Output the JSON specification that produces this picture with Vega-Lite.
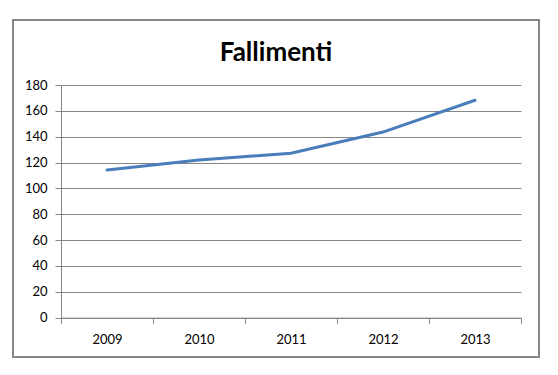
{
  "$schema": "https://vega.github.io/schema/vega-lite/v6.json",
  "autosize": {"type": "none"},
  "width": 526,
  "height": 337,
  "padding": {"left": 13, "top": 20, "right": 19, "bottom": 18},
  "background": "white",
  "config": {
    "view": {"stroke": "#868686", "strokeWidth": 2},
    "font": "Lato"
  },
  "title": {
    "text": "Fallimenti",
    "font": "Lato",
    "fontSize": 26,
    "fontWeight": "bold",
    "color": "#000000",
    "anchor": "middle",
    "frame": "group",
    "baseline": "alphabetic",
    "offset": -39,
    "dy": 28
  },
  "data": {
    "values": [
      {"anno": "2009", "fallimenti": 114.3},
      {"anno": "2010", "fallimenti": 122.0},
      {"anno": "2011", "fallimenti": 127.2},
      {"anno": "2012", "fallimenti": 143.6},
      {"anno": "2013", "fallimenti": 168.2}
    ]
  },
  "mark": {"type": "line", "color": "#4a7ebb", "strokeWidth": 3, "strokeCap": "round"},
  "encoding": {
    "x": {
      "field": "anno",
      "type": "ordinal",
      "bandPosition": 0.5,
      "scale": {"type": "band", "paddingInner": 0, "paddingOuter": 0, "range": [48, 508]},
      "axis": {
        "title": null,
        "offset": -39.3,
        "labelAngle": 0,
        "tickBand": "extent",
        "grid": false,
        "domainColor": "#868686",
        "tickColor": "#868686",
        "tickSize": 6,
        "labelFont": "Lato",
        "labelFontSize": 13,
        "labelColor": "#000000",
        "labelPadding": 10
      }
    },
    "y": {
      "field": "fallimenti",
      "type": "quantitative",
      "scale": {"domain": [0, 180], "range": [297.7, 65], "nice": false, "zero": true},
      "axis": {
        "title": null,
        "offset": -48,
        "values": [0, 20, 40, 60, 80, 100, 120, 140, 160, 180],
        "grid": true,
        "gridColor": "#868686",
        "gridWidth": 1,
        "domainColor": "#868686",
        "tickColor": "#868686",
        "tickSize": 6,
        "labelFont": "Lato",
        "labelFontSize": 13,
        "labelColor": "#000000",
        "labelPadding": 8
      }
    }
  }
}
